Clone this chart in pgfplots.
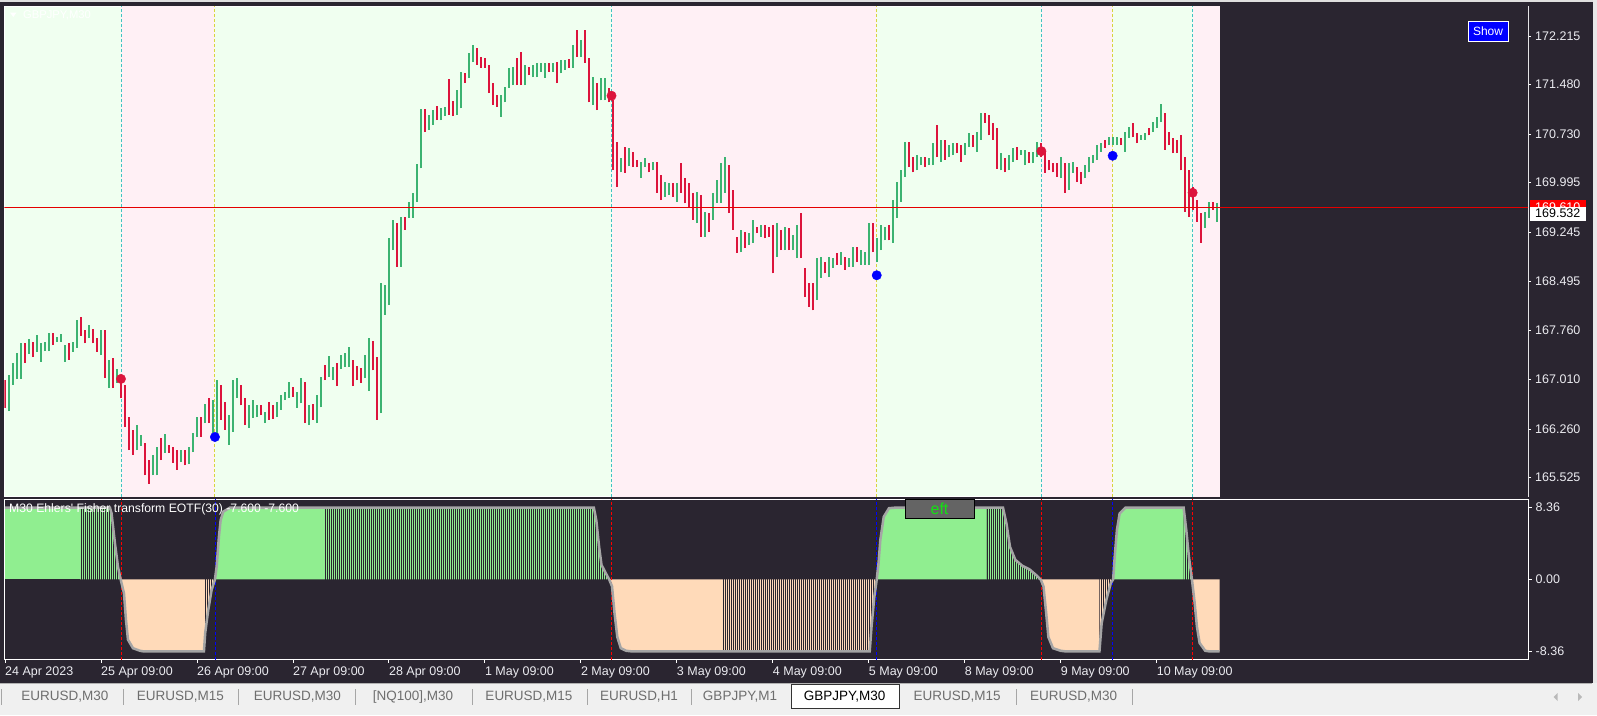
\documentclass[border=0pt]{standalone}
\usepackage{pgfplots}
\pgfplotsset{compat=1.18}
\usepackage{pgfplotstable}
\usepackage{fontspec}
\setmainfont{Liberation Sans}
\usetikzlibrary{patterns.meta}

\definecolor{bgdark}{RGB}{42,37,48}
\definecolor{hgreen}{RGB}{240,255,240}
\definecolor{hpink}{RGB}{255,240,245}
\definecolor{upc}{RGB}{60,179,113}
\definecolor{dnc}{RGB}{220,20,60}
\definecolor{cyanl}{RGB}{64,196,196}
\definecolor{yell}{RGB}{214,214,60}
\definecolor{lgreen}{RGB}{144,238,144}
\definecolor{peach}{RGB}{255,218,185}
\definecolor{curveg}{RGB}{165,165,165}
\definecolor{tabbg}{RGB}{240,240,240}
\definecolor{tabtxt}{RGB}{110,110,110}
\definecolor{lbl}{RGB}{235,235,240}
\definecolor{eftg}{RGB}{20,225,20}
\definecolor{btngray}{RGB}{100,100,100}

\pgfplotstableread{
X L H C
0 166.58 167.00 0
2 166.53 167.08 1
4 166.93 167.26 1
6 167.02 167.41 1
8 167.02 167.56 1
10 167.26 167.56 0
12 167.40 167.62 1
14 167.35 167.58 0
16 167.43 167.68 1
18 167.28 167.56 1
20 167.44 167.58 1
22 167.44 167.72 1
24 167.53 167.72 0
26 167.58 167.65 1
28 167.58 167.70 1
30 167.28 167.53 1
32 167.31 167.56 0
34 167.43 167.58 1
36 167.49 167.91 1
38 167.67 167.96 0
40 167.56 167.76 0
42 167.64 167.84 1
44 167.56 167.78 0
46 167.43 167.64 0
48 167.38 167.76 1
50 167.03 167.76 0
52 166.88 167.31 1
54 166.88 167.34 0
56 166.96 167.17 1
58 166.73 167.08 0
60 166.29 166.93 0
62 165.94 166.44 0
64 165.87 166.25 0
66 165.94 166.32 1
68 166.01 166.17 1
70 165.56 166.05 0
72 165.43 165.79 0
74 165.56 165.87 1
76 165.56 165.99 1
78 165.79 166.12 0
80 165.90 166.18 1
82 165.90 166.02 0
84 165.75 165.99 0
86 165.64 165.94 0
88 165.76 165.94 1
90 165.71 165.94 0
92 165.73 165.99 1
94 165.91 166.20 1
96 166.14 166.44 1
98 166.14 166.44 0
100 166.35 166.64 1
102 166.35 166.73 0
104 166.20 166.70 1
106 166.14 167.00 1
108 166.40 166.93 0
110 166.25 166.67 0
112 166.02 166.47 1
114 166.22 167.00 1
116 166.73 167.03 1
118 166.62 166.93 0
120 166.32 166.73 0
122 166.28 166.62 1
124 166.43 166.70 1
126 166.44 166.62 1
128 166.47 166.62 0
130 166.35 166.52 1
132 166.40 166.67 0
134 166.41 166.62 0
136 166.44 166.67 1
138 166.55 166.78 1
140 166.70 166.82 1
142 166.73 166.97 1
144 166.75 166.90 0
146 166.58 166.82 1
148 166.65 167.03 1
150 166.35 166.97 0
152 166.32 166.62 1
154 166.40 166.64 0
156 166.35 166.78 1
158 166.59 167.05 1
160 167.00 167.23 0
162 167.05 167.37 1
164 167.00 167.20 1
166 166.91 167.26 0
168 167.17 167.38 1
170 167.20 167.41 1
172 167.20 167.50 1
174 166.91 167.31 0
176 167.00 167.21 0
178 166.96 167.18 0
180 167.03 167.38 1
182 166.84 167.64 1
184 167.15 167.59 0
186 166.40 167.35 0
188 166.50 168.47 1
190 167.99 168.44 1
192 168.14 169.15 1
194 168.97 169.43 1
196 168.72 169.38 0
198 168.72 169.47 1
200 169.28 169.47 0
202 169.46 169.70 1
204 169.46 169.84 1
206 169.70 170.28 1
208 170.21 171.11 1
210 170.76 171.11 0
212 170.79 171.02 1
214 170.87 171.09 1
216 170.94 171.15 0
218 170.94 171.12 1
220 171.00 171.14 1
222 171.02 171.56 0
224 171.00 171.23 0
226 171.02 171.40 1
228 171.12 171.67 1
230 171.50 171.65 0
232 171.58 171.96 1
234 171.82 172.08 1
236 171.78 172.03 0
238 171.73 171.90 0
240 171.73 171.88 0
242 171.35 171.78 0
244 171.17 171.50 0
246 171.14 171.32 0
248 170.99 171.32 1
250 171.21 171.44 1
252 171.43 171.73 1
254 171.47 171.75 1
256 171.47 171.88 0
258 171.47 171.97 0
260 171.47 171.78 1
262 171.62 171.75 0
264 171.59 171.78 1
266 171.59 171.81 1
268 171.67 171.81 1
270 171.58 171.81 1
272 171.67 171.81 0
274 171.67 171.81 1
276 171.50 171.82 0
278 171.65 171.85 1
280 171.70 171.85 1
282 171.73 171.87 0
284 171.73 172.08 1
286 171.90 172.31 0
288 171.90 172.15 1
290 171.81 172.31 0
292 171.21 171.88 0
294 171.17 171.59 1
296 171.09 171.50 0
298 171.24 171.58 1
300 171.24 171.58 1
302 171.21 171.43 0
304 170.18 171.24 0
306 169.93 170.61 0
308 170.15 170.37 1
310 170.14 170.53 0
312 170.24 170.52 1
314 170.23 170.46 0
316 170.23 170.34 0
318 170.06 170.31 1
320 170.23 170.37 1
322 170.15 170.29 0
324 170.18 170.31 1
326 169.84 170.31 0
328 169.73 170.11 0
330 169.78 170.00 1
332 169.81 169.99 1
334 169.78 169.99 0
336 169.70 169.99 1
338 169.84 170.29 0
340 169.68 170.06 0
342 169.61 169.99 0
344 169.43 169.84 0
346 169.38 169.85 1
348 169.17 169.81 0
350 169.17 169.55 1
352 169.25 169.53 0
354 169.43 169.84 1
356 169.69 170.03 1
358 169.69 170.29 1
360 169.84 170.38 1
362 169.53 170.26 0
364 169.28 169.88 0
366 168.93 169.17 0
368 168.94 169.27 1
370 169.00 169.24 0
372 169.05 169.23 1
374 169.08 169.43 1
376 169.23 169.32 0
378 169.17 169.35 1
380 169.15 169.35 0
382 169.17 169.32 0
384 168.62 169.35 0
386 168.87 169.38 1
388 168.97 169.28 0
390 168.97 169.32 1
392 168.97 169.31 0
394 168.97 169.20 1
396 168.85 169.35 1
398 168.85 169.53 0
400 168.26 168.70 0
402 168.11 168.47 0
404 168.06 168.47 0
406 168.22 168.85 1
408 168.55 168.87 1
410 168.62 168.79 0
412 168.56 168.87 1
414 168.70 168.85 1
416 168.75 168.93 0
418 168.75 168.94 1
420 168.67 168.87 0
422 168.72 168.85 1
424 168.72 169.02 1
426 168.79 169.02 0
428 168.75 168.97 1
430 168.75 168.94 1
432 168.75 169.38 1
434 168.94 169.38 0
436 168.79 169.15 1
438 168.97 169.35 1
440 169.12 169.32 1
442 169.12 169.35 0
444 169.08 169.73 1
446 169.46 170.00 1
448 169.70 170.18 1
450 170.08 170.61 1
452 170.23 170.61 0
454 170.15 170.38 0
456 170.18 170.41 1
458 170.26 170.38 1
460 170.23 170.38 0
462 170.26 170.37 1
464 170.26 170.59 1
466 170.38 170.87 0
468 170.31 170.64 1
470 170.34 170.64 0
472 170.38 170.56 1
474 170.41 170.59 1
476 170.44 170.59 0
478 170.31 170.56 0
480 170.41 170.59 1
482 170.53 170.75 1
484 170.53 170.71 0
486 170.46 170.76 1
488 170.64 171.05 1
490 170.90 171.05 0
492 170.71 171.02 0
494 170.64 170.90 0
496 170.20 170.82 0
498 170.18 170.44 1
500 170.15 170.37 0
502 170.18 170.41 1
504 170.31 170.52 1
506 170.34 170.53 0
508 170.41 170.49 1
510 170.26 170.49 1
512 170.29 170.46 0
514 170.29 170.46 1
516 170.38 170.61 1
518 170.38 170.59 0
520 170.14 170.46 0
522 170.18 170.34 0
524 170.15 170.29 0
526 170.08 170.29 0
528 170.06 170.38 1
530 169.84 170.29 0
532 169.88 170.29 1
534 170.14 170.31 1
536 170.00 170.23 0
538 169.97 170.15 0
540 170.06 170.26 1
542 170.15 170.38 1
544 170.29 170.41 1
546 170.34 170.56 1
548 170.46 170.59 1
550 170.52 170.64 0
552 170.56 170.68 1
554 170.56 170.68 1
556 170.56 170.68 1
558 170.56 170.67 0
560 170.46 170.76 1
562 170.67 170.84 1
564 170.68 170.90 0
566 170.59 170.74 0
568 170.64 170.71 1
570 170.64 170.74 1
572 170.71 170.82 0
574 170.76 170.91 1
576 170.82 170.99 1
578 170.91 171.18 1
580 170.49 171.05 0
582 170.56 170.76 0
584 170.44 170.67 0
586 170.44 170.64 0
588 170.18 170.71 0
590 169.55 170.38 0
592 169.47 170.18 0
594 169.58 169.93 0
596 169.40 169.73 0
598 169.08 169.53 0
600 169.31 169.55 1
602 169.46 169.70 1
604 169.58 169.70 0
606 169.40 169.68 1
}\bars

\pgfplotstableread{
X V
0 8.36
37.5 8.36
52.5 8.36
53.3 7.7
55 4.2
56.5 1.5
57.85 0
59.5 -1.6
60.5 -4.7
61.5 -7.0
64 -8.0
67.5 -8.3
69 -8.36
99.5 -8.36
100.15 -6.2
101.65 -3.55
103.35 -1.2
105 0
105.85 1.5
107 5.0
107.85 6.9
109.15 7.9
112.5 8.36
159.5 8.36
294.5 8.36
295.75 6.9
297.15 3.8
298.35 1.7
300.1 0.9
302.2 0
303.6 -0.8
304.85 -3.9
306.25 -6.7
308 -8.0
310.65 -8.3
313 -8.36
358.5 -8.36
432.5 -8.36
433.4 -5.5
434.8 -2.0
436 0
436.9 1.9
437.8 4.6
439.5 7.3
442.15 8.3
445 8.36
491 8.36
499.15 8.36
500.9 6.5
502.65 3.8
505.3 2.3
508.8 1.6
512.3 1.2
515.8 0.5
518 0
519.4 -0.8
520.75 -3.9
521.85 -6.7
524.15 -8.0
528 -8.3
530 -8.36
547.4 -8.36
548.5 -5.1
550.8 -2.4
553.1 -0.4
554.25 0
555 2.6
556.15 5.8
557.5 7.7
560.35 8.36
589.5 8.36
590.8 5.8
592.15 2.65
593.65 0
595 -2.7
596.15 -5.5
597.5 -7.4
600.3 -8.3
602 -8.36
607.5 -8.36
}\eotf

\tikzset{stripe/.style={draw=none, pattern={Lines[angle=90,distance=2pt,line width=1pt]}, pattern color=#1},
  cdash/.style={cyanl, line width=0.9pt, dash pattern=on 3pt off 2pt},
  ydash/.style={yell, line width=0.9pt, dash pattern=on 3pt off 2pt},
  rdash/.style={red, line width=0.8pt, dash pattern=on 3pt off 2pt},
  bdash/.style={blue, line width=0.8pt, dash pattern=on 3pt off 2pt}}

\begin{document}
\begin{tikzpicture}
\path[use as bounding box] (0pt,0pt) rectangle (1597pt,-715pt);
\fill[bgdark] (0pt,0pt) rectangle (1597pt,-715pt);
\fill[gray!25] (0pt,0pt) rectangle (1597pt,-1.5pt);
\fill[gray!18] (1592.5pt,0pt) rectangle (1597pt,-683pt);

% ---------------- price panel ----------------
\begin{axis}[
  at={(4.5pt,-496pt)}, anchor=south west,
  scale only axis, width=1523.5pt, height=490pt,
  xmin=-0.25, xmax=761.75, ymin=165.246, ymax=172.669,
  axis background/.style={fill=hgreen},
  axis line style={white, line width=0.8pt},
  xtick=\empty,
  ytick={165.525,166.260,167.010,167.760,168.495,169.245,169.995,170.730,171.480,172.215},
  yticklabels={165.525,166.260,167.010,167.760,168.495,169.245,169.995,170.730,171.480,172.215},
  ytick pos=right, yticklabel pos=right,
  tick align=outside, major tick length=3pt,
  tick style={white, line width=0.8pt},
  yticklabel style={font=\fontsize{12.5}{14}\selectfont, text=lbl, anchor=west, inner sep=0pt, xshift=4pt},
]
\fill[hpink] (axis cs:58,165) rectangle (axis cs:105,173);
\fill[hpink] (axis cs:303.35,165) rectangle (axis cs:436,173);
\fill[hpink] (axis cs:518.35,165) rectangle (axis cs:554,173);
\fill[hpink] (axis cs:594,165) rectangle (axis cs:607.5,173);
\fill[bgdark] (axis cs:607.5,165) rectangle (axis cs:770,173);
\draw[cdash] (axis cs:58,165) -- (axis cs:58,173);
\draw[cdash] (axis cs:303.35,165) -- (axis cs:303.35,173);
\draw[cdash] (axis cs:518.35,165) -- (axis cs:518.35,173);
\draw[cdash] (axis cs:594,165) -- (axis cs:594,173);
\draw[ydash] (axis cs:105,165) -- (axis cs:105,173);
\draw[ydash] (axis cs:436,165) -- (axis cs:436,173);
\draw[ydash] (axis cs:554,165) -- (axis cs:554,173);
\addplot[upc, line width=1.8pt, quiver={u=0, v=\thisrow{H}-\thisrow{L}},
  restrict expr to domain={\thisrow{C}}{0.5:1.5}] table[x=X, y=L] {\bars};
\addplot[dnc, line width=1.8pt, quiver={u=0, v=\thisrow{H}-\thisrow{L}},
  restrict expr to domain={\thisrow{C}}{-0.5:0.5}] table[x=X, y=L] {\bars};
\draw[red!90!black, line width=0.9pt] (axis cs:-1,169.61) -- (axis cs:770,169.61);
\addplot[only marks, mark=*, mark size=4.7pt, mark options={fill=dnc, draw=dnc}]
  coordinates {(58,167.02) (303.35,171.31) (518.35,170.47) (594,169.84)};
\addplot[only marks, mark=*, mark size=4.7pt, mark options={fill=blue, draw=blue}]
  coordinates {(105,166.14) (436,168.59) (554,170.40)};
\end{axis}

% ---------------- oscillator panel ----------------
\begin{axis}[
  at={(4.5pt,-659pt)}, anchor=south west,
  scale only axis, width=1523.5pt, height=160pt,
  xmin=-0.25, xmax=761.75, ymin=-9.26, ymax=9.37,
  axis background/.style={fill=bgdark},
  axis line style={white, line width=0.8pt},
  xtick={0,48,96,144,192,240,288,336,384,432,480,528,576},
  xticklabels={24 Apr 2023,25 Apr 09:00,26 Apr 09:00,27 Apr 09:00,28 Apr 09:00,1 May 09:00,2 May 09:00,3 May 09:00,4 May 09:00,5 May 09:00,8 May 09:00,9 May 09:00,10 May 09:00},
  xtick pos=lower,
  ytick={-8.36,0,8.36}, yticklabels={-8.36,0.00,8.36},
  ytick pos=right, yticklabel pos=right,
  tick align=outside, major tick length=3.5pt,
  tick style={white, line width=0.8pt},
  yticklabel style={font=\fontsize{12.5}{14}\selectfont, text=lbl, anchor=west, inner sep=0pt, xshift=4pt},
  xticklabel style={font=\fontsize{12.5}{14}\selectfont, text=lbl, anchor=north west, inner sep=0pt, yshift=-4pt},
]
\addplot[fill=lgreen, draw=none, restrict x to domain=0:37.5] table[x=X,y=V] {\eotf} \closedcycle;
\addplot[stripe=lgreen, restrict x to domain=37.5:57.85] table[x=X,y=V] {\eotf} \closedcycle;
\addplot[fill=peach, draw=none, restrict x to domain=57.85:99.5] table[x=X,y=V] {\eotf} \closedcycle;
\addplot[stripe=peach, restrict x to domain=99.5:105] table[x=X,y=V] {\eotf} \closedcycle;
\addplot[fill=lgreen, draw=none, restrict x to domain=105:159.5] table[x=X,y=V] {\eotf} \closedcycle;
\addplot[stripe=lgreen, restrict x to domain=159.5:302.2] table[x=X,y=V] {\eotf} \closedcycle;
\addplot[fill=peach, draw=none, restrict x to domain=302.2:358.5] table[x=X,y=V] {\eotf} \closedcycle;
\addplot[stripe=peach, restrict x to domain=358.5:436] table[x=X,y=V] {\eotf} \closedcycle;
\addplot[fill=lgreen, draw=none, restrict x to domain=436:491] table[x=X,y=V] {\eotf} \closedcycle;
\addplot[stripe=lgreen, restrict x to domain=491:518] table[x=X,y=V] {\eotf} \closedcycle;
\addplot[fill=peach, draw=none, restrict x to domain=518:547.4] table[x=X,y=V] {\eotf} \closedcycle;
\addplot[stripe=peach, restrict x to domain=547.4:554.25] table[x=X,y=V] {\eotf} \closedcycle;
\addplot[fill=lgreen, draw=none, restrict x to domain=554.25:589.5] table[x=X,y=V] {\eotf} \closedcycle;
\addplot[stripe=lgreen, restrict x to domain=589.5:593.65] table[x=X,y=V] {\eotf} \closedcycle;
\addplot[fill=peach, draw=none, restrict x to domain=593.65:607.5] table[x=X,y=V] {\eotf} \closedcycle;
\draw[rdash] (axis cs:58,-10) -- (axis cs:58,10);
\draw[rdash] (axis cs:303.35,-10) -- (axis cs:303.35,10);
\draw[rdash] (axis cs:518.35,-10) -- (axis cs:518.35,10);
\draw[rdash] (axis cs:594,-10) -- (axis cs:594,10);
\draw[bdash] (axis cs:105,-10) -- (axis cs:105,10);
\draw[bdash] (axis cs:436,-10) -- (axis cs:436,10);
\draw[bdash] (axis cs:554,-10) -- (axis cs:554,10);
\addplot[curveg, line width=2.5pt] table[x=X,y=V] {\eotf};
\end{axis}

% ---------------- annotations ----------------
\fill[white] (10pt,-12.5pt) -- (16.5pt,-12.5pt) -- (13.25pt,-17pt) -- cycle;
\node[anchor=west, text=white, font=\fontsize{11.2}{13}\selectfont, inner sep=0pt] at (23pt,-15pt) {GBPJPY,M30};
\draw[white, fill=blue, line width=0.8pt] (1468pt,-21pt) rectangle (1508pt,-41pt);
\node[text=white, font=\fontsize{12}{14}\selectfont, inner sep=0pt] at (1488pt,-31pt) {Show};
\fill[red] (1530pt,-199.5pt) rectangle (1586pt,-206.5pt);
\begin{scope}
\clip (1530pt,-199.5pt) rectangle (1586pt,-206.5pt);
\node[anchor=west, text=white, font=\fontsize{12.5}{14}\selectfont, inner sep=0pt] at (1535pt,-207pt) {169.610};
\end{scope}
\fill[white] (1530pt,-206.5pt) rectangle (1586pt,-220.5pt);
\node[anchor=west, text=black, font=\fontsize{12.5}{14}\selectfont, inner sep=0pt] at (1535pt,-213.5pt) {169.532};
\node[anchor=north west, text=white, font=\fontsize{12.2}{14}\selectfont, inner sep=0pt] at (9pt,-503.5pt) {M30 Ehlers\textquotesingle\ Fisher transform EOTF(30) -7.600 -7.600};
\draw[black, fill=btngray, line width=0.8pt] (905.8pt,-499.7pt) rectangle (974.5pt,-518.5pt);
\node[text=eftg, font=\fontsize{16}{18}\selectfont, inner sep=0pt] at (939.5pt,-509pt) {eft};

% ---------------- tab bar ----------------
\fill[tabbg] (0pt,-683pt) rectangle (1597pt,-715pt);
\draw[gray!60, line width=0.8pt] (0pt,-683.5pt) -- (1592pt,-683.5pt);
\draw[black!80, fill=white, line width=0.8pt] (791.5pt,-684pt) rectangle (899pt,-708pt);
\foreach \sx in {1.5,123.5,238.8,355.6,472,587.8,691.3,1016,1132}{
  \draw[gray!70, line width=0.8pt] (\sx pt,-689pt) -- (\sx pt,-705pt);
}
\begin{scope}[every node/.style={font=\fontsize{13.5}{15}\selectfont, inner sep=0pt, text=tabtxt}]
\node at (65pt,-697pt) {EURUSD,M30};
\node at (180.5pt,-697pt) {EURUSD,M15};
\node at (297.5pt,-697pt) {EURUSD,M30};
\node at (413pt,-697pt) {[NQ100],M30};
\node at (529pt,-697pt) {EURUSD,M15};
\node at (639pt,-697pt) {EURUSD,H1};
\node at (740pt,-697pt) {GBPJPY,M1};
\node[text=black] at (844.6pt,-697pt) {GBPJPY,M30};
\node at (957pt,-697pt) {EURUSD,M15};
\node at (1073.5pt,-697pt) {EURUSD,M30};
\end{scope}
\fill[gray!55] (1553.5pt,-697pt) -- (1557.5pt,-693pt) -- (1557.5pt,-701pt) -- cycle;
\fill[gray!55] (1582pt,-697pt) -- (1578pt,-693pt) -- (1578pt,-701pt) -- cycle;
\end{tikzpicture}
\end{document}
